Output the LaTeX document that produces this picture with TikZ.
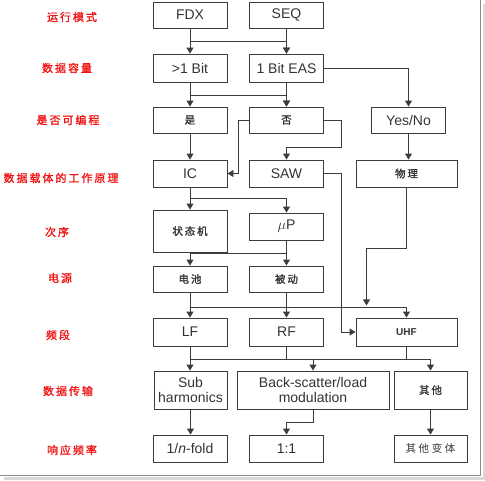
\documentclass[tikz,border=0pt]{standalone}
\usepackage{fontspec}
\setmainfont{Liberation Sans}
\newfontfamily\cjkfont[LetterSpace=18,FakeBold=1.4]{Noto Sans CJK SC}
\newfontfamily\cjklight[LetterSpace=25]{Noto Sans CJK SC}
\usetikzlibrary{arrows.meta,calc,positioning}
\definecolor{linegray}{RGB}{60,60,60}
\definecolor{labelred}{RGB}{240,20,20}
\tikzset {
  >={Triangle[length=6pt,width=7pt]},
  every node/.style={font=\fontsize{14}{16}\selectfont, text=black!80},
  box/.style={draw=linegray, line width=0.9pt, minimum width=74pt, minimum height=26pt, inner sep=1pt, align=center},
  cjkbox/.style={box, font=\fontsize{10.5}{12}\cjkfont},
  rowlabel/.style={font=\fontsize{11}{12}\cjkfont, text=labelred},
  link/.style={draw=linegray, line width=0.9pt},
}

\begin{document}
\begin{tikzpicture}[x=1pt,y=-1pt]
          \useasboundingbox (0,0) rectangle (485,480);
          % frame and shadow
          \fill[black!15] (483,4) rectangle (485,480);
          \fill[black!15] (4,477) rectangle (485,480);
          \draw[black!45, line width=0.8pt] (480,0) -- (480,475.5) -- (0,475.5);

          % row labels
          \node[rowlabel] (lmode) at (72,17) {运行模式};
          \node[rowlabel] (lcap) at (67,68) {数据容量};
          \node[rowlabel] (lprog) at (68,120) {是否可编程};
          \node[rowlabel] (lprin) at (61,178) {数据载体的工作原理};
          \node[rowlabel] (lseq) at (57,232) {次序};
          \node[rowlabel] (lpow) at (60,278) {电源};
          \node[rowlabel] (lband) at (58,335) {频段};
          \node[rowlabel] (ltrans) at (68,391) {数据传输};
          \node[rowlabel] (lresp) at (72,450) {响应频率};

          % boxes
          \node[box] (fdx) at (190,15) {FDX};
          \node[box] (seq) at (286.5,15) {SEQ};

          \node[box, minimum height=28pt] (bit) at (190,68) {>1 Bit};
          \node[box, minimum height=28pt] (eas) at (286.5,68) {1 Bit EAS};

          \node[cjkbox] (yes) at (190,120) {是};
          \node[cjkbox] (no) at (286.5,120) {否};
          \node[box] (yesno) at (408.5,120) {Yes/No};

          \node[box, minimum height=27pt] (ic) at (190,173.5) {IC};
          \node[box, minimum height=27pt] (saw) at (286.5,173.5) {SAW};
          \node[cjkbox, minimum width=101pt, minimum height=27pt] (phys) at (406.5,173.5) {物理};

          \node[cjkbox, minimum height=42pt] (fsm) at (190,231) {状态机};
          \node[box, minimum height=27pt] (mup) at (286.5,226.5) {$\mu$P};

          \node[cjkbox] (batt) at (190,279) {电池};
          \node[cjkbox] (pass) at (286.5,279) {被动};

          \node[box, minimum height=28pt] (lf) at (190,332) {LF};
          \node[box, minimum height=28pt] (rf) at (286.5,332) {RF};
          \node[box, minimum width=101pt, minimum height=28pt, font=\fontsize{10}{12}\selectfont\bfseries] (uhf) at (406.5,332) {UHF};

          \node[box, minimum width=73pt, minimum height=38pt, font=\fontsize{14}{15}\selectfont] (sub) at (190.5,390) {Sub\\harmonics};
          \node[box, minimum width=152pt, minimum height=38pt, font=\fontsize{14}{15}\selectfont] (bsc) at (313,390) {Back-scatter/load\\modulation};
          \node[cjkbox, minimum width=73pt, minimum height=38pt] (other) at (430.5,390) {其他};

          \node[box, minimum height=27pt] (nfold) at (190,448.5) {1/\textit{n}-fold};
          \node[box, minimum height=27pt] (oneone) at (286.5,448.5) {1:1};
          \node[box, minimum width=73pt, minimum height=27pt, font=\fontsize{10.5}{12}\cjklight] (otherv) at (430.5,448.5) {其他变体};

          % connectors
          \draw[link,->] (fdx) -- (bit);
          \draw[link,->] (seq) -- (eas);
          \draw[link,->] (fdx.south) -- ++(0,13) -| (eas.north);

          \draw[link,->] (bit) -- (yes);
          \draw[link,->] (eas) -- (no);
          \draw[link,->] (bit.south) -- ++(0,13) -| (no.north);
          \draw[link,->] (eas.east) -| (yesno.north);

          \draw[link,->] (yes) -- (ic);
          \draw[link,->] (no.west) -- ++(-11,0) |- (ic.east);
          \draw[link,->] (no.east) -- ++(17,0) -- ++(0,27) -| (saw.north);
          \draw[link,->] (yesno.south) -- (yesno.south |- phys.north);

          \draw[link,->] (ic) -- (fsm);
          \draw[link,->] (ic.south) -- ++(0,11) -| (mup.north);

          \draw[link,->] (mup) -- (pass);
          \draw[link,->] (mup.south) -- ++(0,13) -| (batt.north);

          \draw[link,->] (batt) -- (lf);
          \draw[link,->] (pass) -- (rf);
          \draw[link,->] (batt.south) -- ++(0,15) -| (uhf.north);
          \draw[link,->] (phys.south) -- ++(0,61) -- ++(-40,0) -- ++(0,57);
          \draw[link,->] (saw.east) -- ++(17,0) |- (uhf.west);

          \draw[link,->] (lf.south) -- (lf.south |- sub.north);
          \draw[link] (rf.south) -- ++(0,13);
          \draw[link] (uhf.south) -- ++(0,13);
          \draw[link,->] (lf.south) -- ++(0,13) -| (other.north);
          \draw[link,->] (bsc.north) ++(0,-12) -- (bsc.north);

          \draw[link,->] (sub.south) -- (sub.south |- nfold.north);
          \draw[link,->] (bsc.south) -- ++(0,13) -| (oneone.north);
          \draw[link,->] (other) -- (otherv);
        \end{tikzpicture}
\end{document}
